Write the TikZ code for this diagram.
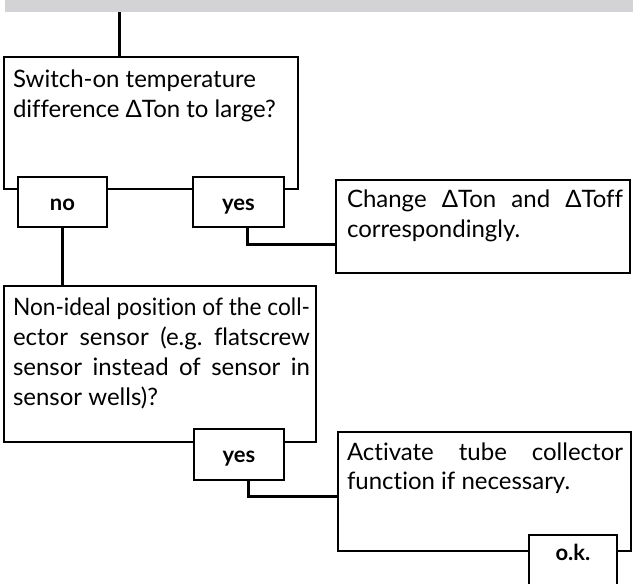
\documentclass[tikz,border=0pt]{standalone}
\usepackage{fontspec}
\usepackage{graphicx}
\setmainfont{Lato}[Ligatures={NoCommon}]
\usetikzlibrary{calc}
\definecolor{barcol}{RGB}{211,211,213}
\newcommand{\jl}[2]{\setbox0\hbox{#2}\ifdim\wd0>#1\relax\resizebox{#1}{\height}{#2}\else\makebox[#1][s]{#2}\fi}
\frenchspacing
\begin{document}
\begin{tikzpicture}[x=1pt,y=-1pt,
  bigbox/.style={draw=black, line width=2pt, fill=white, inner sep=0pt, outer sep=0pt, anchor=north west},
  smallbox/.style={draw=black, line width=2pt, fill=white, inner sep=0pt, outer sep=0pt, text height=16pt, text depth=0pt, font=\fontsize{22}{24}\selectfont\bfseries},
  txt/.style={inner sep=0pt, outer sep=0pt, anchor=base west, font=\fontsize{24}{30}\selectfont},
  conn/.style={draw=black, line width=3pt}]
\useasboundingbox (0,0) rectangle (633,584);
\clip (0,0) rectangle (633,584);
% grey bar
\node[fill=barcol, inner sep=0pt, outer sep=0pt, minimum width=628pt, minimum height=12pt, anchor=north west] (bar) at (5,0) {};
% boxes
\node[bigbox, minimum width=294pt, minimum height=132pt] (q1) at (4,57) {};
\node[bigbox, minimum width=294pt, minimum height=93pt] (ch) at (336,180) {};
\node[bigbox, minimum width=312pt, minimum height=156pt] (q2) at (4,286) {};
\node[bigbox, minimum width=293pt, minimum height=119pt] (act) at (338,432) {};
% texts
\node[txt] (q1t) at (13,87) {\parbox[t]{290pt}{Switch-on temperature\\difference ΔTon to large?}};
\node[txt] (cht) at (347,207) {\parbox[t]{276pt}{\jl{276pt}{Change ΔTon and ΔToff}\\correspondingly.}};
\node[txt] (q2t) at (13,315) {\parbox[t]{297pt}{\jl{297pt}{Non-ideal position of the coll-}\\\jl{297pt}{ector sensor (e.g. flatscrew}\\\jl{297pt}{sensor instead of sensor in}\\sensor wells)?}};
\node[txt, font=\fontsize{24}{29}\selectfont] (actt) at (347,460) {\parbox[t]{276pt}{\jl{276pt}{Activate tube collector}\\function if necessary.}};
% answer boxes
\node[smallbox, minimum width=89pt, minimum height=50pt] (no) at (62.5,202) {no};
\node[smallbox, minimum width=91pt, minimum height=50pt] (yes) at (238.5,202) {yes};
\node[smallbox, minimum width=90pt, minimum height=51pt] (yes2) at (239,454.5) {yes};
\node[smallbox, minimum width=88pt, minimum height=52pt, text depth=18pt] (ok) at (573,561) {o.k.};
% connectors
\coordinate (in1) at (119,57);
\draw[conn] (in1 |- bar.south) -- (in1);
\draw[conn] (no.south) -- (no.south |- q2.north);
\coordinate (y1) at ($(yes.south west)!0.6!(yes.south east)$);
\coordinate (c1) at ($(ch.north west)!0.69!(ch.south west)$);
\draw[conn] (y1) |- (c1);
\coordinate (y2) at ($(yes2.south west)!0.61!(yes2.south east)$);
\coordinate (c2) at ($(act.north west)!0.546!(act.south west)$);
\draw[conn] (y2) |- (c2);
\end{tikzpicture}
\end{document}
